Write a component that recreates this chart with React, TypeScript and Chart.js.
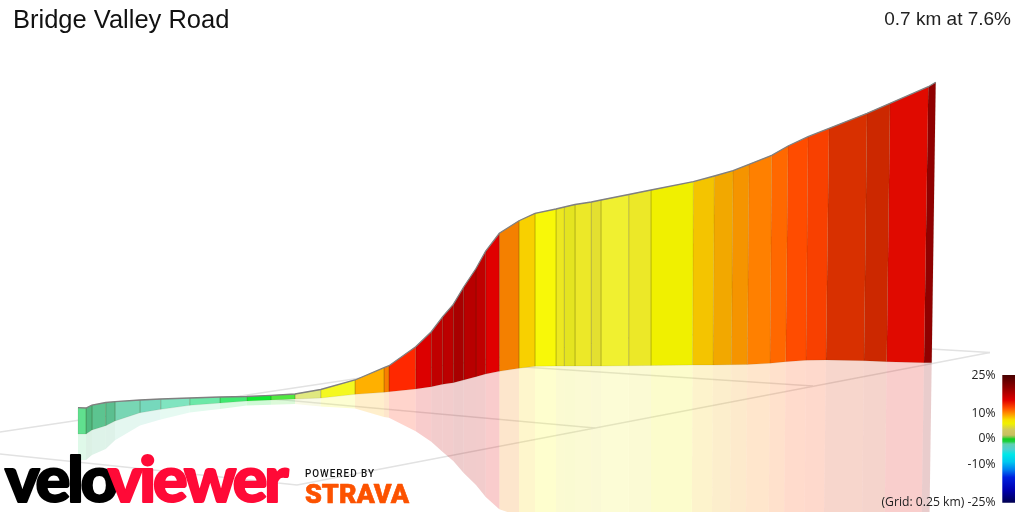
// App.tsx
import React, { useEffect, useRef } from "react";
import Chart from "chart.js/auto";

// wall outline (x = projected distance, y = projected height, 1:1 with the image)
const topDistance = [78, 86, 92, 105.7, 115, 140, 160.7, 189.7, 220, 246.7, 271, 295, 320.7, 355, 384, 389, 415.7, 431.3, 442.7, 453.3, 463.7, 476, 485.7, 499.3, 519, 535, 556, 564.3, 575, 591.3, 601, 628.7, 651, 693.3, 714.3, 733, 749, 771.7, 788, 808, 829, 867, 890, 928.3, 935.7];
const topHeight = [407.7, 408, 405, 402.5, 401.7, 400, 399, 398, 397, 396.5, 395.3, 394, 389.5, 380, 367.7, 365.7, 346.7, 331.7, 316.7, 304.3, 287, 268.5, 251, 233.3, 220.7, 213.3, 209, 207, 204.5, 202, 200, 194.5, 190, 181.7, 176, 170.7, 164.3, 155.3, 146, 136.7, 128.3, 113.3, 103.3, 86.7, 82.3];
const baseDistance = [78, 86, 92, 105.7, 115, 140, 160.7, 189.7, 220, 246.7, 271, 295, 320.7, 355, 384, 389, 415.7, 431.3, 442.7, 453.3, 463.7, 476, 485.7, 499.3, 519, 535, 556, 564.3, 575, 591.3, 601, 628.7, 651, 692.5, 713, 731.3, 747.3, 770, 785.7, 806, 826, 864, 886.7, 924, 931.7];
const baseHeight = [434, 434, 430, 425.7, 421, 412.7, 409.3, 405.3, 403, 401, 400, 399, 398, 394.3, 392.3, 391.7, 389, 386.7, 384.3, 382.7, 380, 376.7, 374, 371.3, 368.3, 366.3, 366, 366, 366, 366, 366, 365.7, 365.5, 365, 365, 364.7, 364.5, 363.3, 361.7, 360.3, 360, 360.7, 361.7, 362.7, 362.7];
const segmentColors = ["#60e08f", "#4fb87f", "#5cc490", "#5bbf90", "#78d6b4", "#76d8bc", "#80e4c0", "#6ce8a8", "#40e870", "#10e830", "#50e840", "#e0e880", "#f4f820", "#ffb000", "#f88000", "#ff2800", "#dc0000", "#c00000", "#bc0000", "#a80000", "#b80000", "#c00000", "#e00000", "#f48000", "#f8d000", "#f8f808", "#ece820", "#e4e420", "#ece828", "#e4e030", "#f0f030", "#ece828", "#f0f000", "#f4c400", "#f2a800", "#f59400", "#ff8000", "#ff6800", "#ff4c00", "#f84000", "#d83000", "#cc2800", "#e00a00", "#900000"];

// ground grid
const gridFromX = [0, 297, 240, 462, 0, 661];
const gridFromY = [432, 485, 396, 363, 454, 333];
const gridToX = [661, 990, 595, 813, 297, 990];
const gridToY = [333, 352.5, 428, 386, 485, 352.5];

// grade key
const gradeTicks = [25, 10, 0, -10, -25];
const gradeLabels = ["25%", "10%", "0%", "-10%", "(Grid: 0.25 km) -25%"];
const gradeStops = [25, 20, 15.2, 12, 10, 7.5, 6, 3.5, 1.5, 0.5, 0, -1, -2, -4, -6, -9, -12, -15, -20, -25];
const gradeColors = ["#480000", "#900000", "#e00000", "#ff5000", "#ff9000", "#f8e000", "#f0f000", "#d0c860", "#c8c060", "#60c840", "#10d020", "#20d040", "#60d0b0", "#50d0d0", "#00e8e8", "#00c8f0", "#0080f0", "#0020e0", "#0000b0", "#000050"];

const titleText = "Bridge Valley Road";
const summaryText = "0.7 km at 7.6%";

const fitText = (ctx: CanvasRenderingContext2D, text: string, x0: number, x1: number, y: number, font: string, color: string, spacing = "0px", stroke = 0) => {
	ctx.save();
	ctx.font = font;
	ctx.letterSpacing = spacing;
	const w = ctx.measureText(text).width;
	ctx.translate(x0, y);
	ctx.scale((x1 - x0) / w, 1);
	ctx.fillStyle = color;
	ctx.textAlign = "left";
	ctx.textBaseline = "alphabetic";
	if (stroke > 0) {
		ctx.strokeStyle = color;
		ctx.lineWidth = stroke;
		ctx.lineJoin = "round";
		ctx.strokeText(text, 0, 0);
	}
	ctx.fillText(text, 0, 0);
	ctx.restore();
};

const textPlugin = {
	id: "pageText",
	afterDraw(chart: any) {
		const ctx = chart.ctx as CanvasRenderingContext2D;
		ctx.save();
		ctx.textBaseline = "alphabetic";
		ctx.fillStyle = "#111";
		ctx.font = '25.5px "Liberation Sans"';
		ctx.textAlign = "left";
		ctx.fillText(titleText, 13, 28);
		ctx.font = '19px "Liberation Sans"';
		ctx.textAlign = "right";
		ctx.fillStyle = "#222";
		ctx.fillText(summaryText, 1011, 25);

		ctx.font = '12.2px "Open Sans"';
		ctx.fillStyle = "#222";
		ctx.textBaseline = "middle";
		gradeTicks.forEach((g, i) => {
			ctx.fillText(gradeLabels[i], 995.5, chart.scales.yGrade.getPixelForValue(g));
		});
		ctx.restore();

		fitText(ctx, "velo", 5, 115, 502, '900 62px "Lato"', "#000", "-3px", 2);
		fitText(ctx, "viewer", 108, 285.5, 502, '900 62px "Lato"', "#ff0a37", "-3px", 2);
		fitText(ctx, "POWERED BY", 305, 375, 477, '500 10px "Roboto"', "#111", "1px");
		fitText(ctx, "STRAVA", 305, 409, 503, '900 25px "Roboto"', "#fc5200", "0px", 0.6);
	},
};

const keyGradient = (c: any) => {
	const { chart } = c;
	const scale = chart.scales.yGrade;
	if (!scale) return "#000";
	const top = scale.getPixelForValue(25);
	const bottom = scale.getPixelForValue(-25);
	// the option is also resolved once before the layout has run
	if (!Number.isFinite(top) || !Number.isFinite(bottom)) return "#000";
	const g = chart.ctx.createLinearGradient(0, top, 0, bottom);
	gradeStops.forEach((v, i) => g.addColorStop((25 - v) / 50, gradeColors[i]));
	return g;
};

const hexAlpha = (hex: string, a: number) => hex + Math.round(a * 255).toString(16).padStart(2, "0");

const App: React.FC = () => {
	const chartRef = useRef<HTMLCanvasElement>(null);

	useEffect(() => {
		if (!chartRef.current) return;

		const shape = { pointRadius: 0, pointHoverRadius: 0, tension: 0, fill: "shape" as const };
		const datasets: any[] = [];

		gridFromX.forEach((x, i) => {
			datasets.push({
				data: [{ x, y: gridFromY[i] }, { x: gridToX[i], y: gridToY[i] }],
				borderColor: "#e2e2e2",
				borderWidth: 1.3,
				pointRadius: 0,
				fill: false,
				order: 4,
			});
		});

		segmentColors.forEach((color, i) => {
			// mirrored in the ground
			datasets.push({
				...shape,
				data: [
					{ x: baseDistance[i], y: baseHeight[i] },
					{ x: baseDistance[i + 1], y: baseHeight[i + 1] },
					{ x: 2 * baseDistance[i + 1] - topDistance[i + 1], y: 2 * baseHeight[i + 1] - topHeight[i + 1] },
					{ x: 2 * baseDistance[i] - topDistance[i], y: 2 * baseHeight[i] - topHeight[i] },
				],
				backgroundColor: hexAlpha(color, 0.2),
				borderWidth: 0,
				order: 3,
			});
			datasets.push({
				...shape,
				data: [
					{ x: topDistance[i], y: topHeight[i] },
					{ x: topDistance[i + 1], y: topHeight[i + 1] },
					{ x: baseDistance[i + 1], y: baseHeight[i + 1] },
					{ x: baseDistance[i], y: baseHeight[i] },
					{ x: topDistance[i], y: topHeight[i] },
				],
				backgroundColor: color,
				borderColor: "rgba(60,60,0,0.09)",
				borderWidth: 1,
				order: 2,
			});
		});

		// top edge
		datasets.push({
			data: topDistance.map((x, i) => ({ x, y: topHeight[i] })),
			borderColor: "#808080",
			borderWidth: 1.3,
			pointRadius: 0,
			fill: false,
			order: 1,
		});

		// grade key
		datasets.push({
			...shape,
			yAxisID: "yGrade",
			data: [
				{ x: 1002.3, y: 25 },
				{ x: 1015, y: 25 },
				{ x: 1015, y: -25 },
				{ x: 1002.3, y: -25 },
			],
			backgroundColor: keyGradient,
			borderWidth: 0,
			order: 0,
		});

		const myChart = new Chart(chartRef.current, {
			type: "line",
			data: { datasets },
			options: {
				animation: false,
				responsive: false,
				devicePixelRatio: 1,
				events: [],
				layout: { padding: 0 },
				plugins: { legend: { display: false }, tooltip: { enabled: false } },
				scales: {
					x: { type: "linear", min: 0, max: 1024, display: false },
					y: { type: "linear", min: 0, max: 512, reverse: true, display: false },
					yGrade: { type: "linear", min: -28.6, max: 171.8, display: false },
				},
			},
			plugins: [textPlugin],
		});

		return () => {
			myChart.destroy();
		};
	}, []);

	return (
		<div style={{ position: "absolute", left: 0, top: 0, width: 1024, height: 512, background: "#fff" }}>
			<canvas ref={chartRef} width={1024} height={512} style={{ display: "block" }} />
		</div>
	);
};

export default App;
